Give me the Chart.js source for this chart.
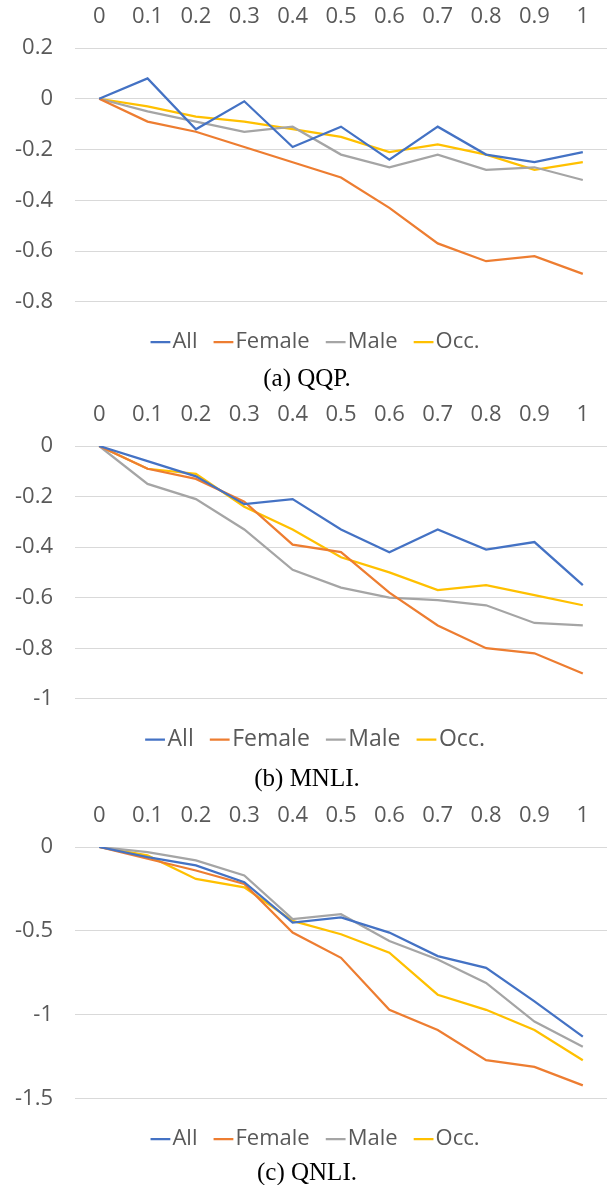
<!DOCTYPE html>
<html lang="en">
<head>
<meta charset="utf-8">
<title>QQP / MNLI / QNLI</title>
<script src="https://cdn.jsdelivr.net/npm/chart.js@4.4.1/dist/chart.umd.min.js"></script>
<style>
  body { margin: 0; background: #fff; width: 614px; height: 1185px; position: relative; overflow: hidden; }
  .panel { position: absolute; left: 0; width: 614px; height: 368px; }
  .caption { position: absolute; left: 0; width: 614px; text-align: center;
             font-family: "Liberation Serif", "Times New Roman", serif; font-size: 25px; color: #000;
             line-height: 28px; }
</style>
</head>
<body>

<div class="panel" style="top:0px"><canvas id="qqp"></canvas></div>
<div class="caption" style="top:364px">(a) QQP.</div>

<div class="panel" style="top:397px"><canvas id="mnli"></canvas></div>
<div class="caption" style="top:764px">(b) MNLI.</div>

<div class="panel" style="top:798px"><canvas id="qnli"></canvas></div>
<div class="caption" style="top:1158px">(c) QNLI.</div>

<script>
var xLabels = ['0', '0.1', '0.2', '0.3', '0.4', '0.5', '0.6', '0.7', '0.8', '0.9', '1'];
var seriesNames = ['All', 'Female', 'Male', 'Occ.'];
var seriesColors = ['#4472C4', '#ED7D31', '#A5A5A5', '#FFC000'];

// (a) QQP
var qqpAll    = [0, 0.08, -0.12, -0.01, -0.19, -0.11, -0.24, -0.11, -0.22, -0.25, -0.21];
var qqpFemale = [0, -0.09, -0.13, -0.19, -0.25, -0.31, -0.43, -0.57, -0.64, -0.62, -0.69];
var qqpMale   = [0, -0.05, -0.09, -0.13, -0.11, -0.22, -0.27, -0.22, -0.28, -0.27, -0.32];
var qqpOcc    = [0, -0.03, -0.07, -0.09, -0.12, -0.15, -0.21, -0.18, -0.22, -0.28, -0.25];

// (b) MNLI
var mnliAll    = [0, -0.06, -0.12, -0.23, -0.21, -0.33, -0.42, -0.33, -0.41, -0.38, -0.55];
var mnliFemale = [0, -0.09, -0.13, -0.22, -0.39, -0.42, -0.58, -0.71, -0.80, -0.82, -0.90];
var mnliMale   = [0, -0.15, -0.21, -0.33, -0.49, -0.56, -0.60, -0.61, -0.63, -0.70, -0.71];
var mnliOcc    = [0, -0.09, -0.11, -0.24, -0.33, -0.44, -0.50, -0.57, -0.55, -0.59, -0.63];

// (c) QNLI
var qnliAll    = [0, -0.06, -0.11, -0.21, -0.45, -0.42, -0.51, -0.65, -0.72, -0.92, -1.13];
var qnliFemale = [0, -0.07, -0.14, -0.22, -0.51, -0.66, -0.97, -1.09, -1.27, -1.31, -1.42];
var qnliMale   = [0, -0.03, -0.08, -0.17, -0.43, -0.40, -0.56, -0.67, -0.81, -1.04, -1.19];
var qnliOcc    = [0, -0.05, -0.19, -0.24, -0.44, -0.52, -0.63, -0.88, -0.97, -1.09, -1.27];

var fontFamily = '"Open Sans", "Noto Sans", sans-serif';

// legend is centred under the plot area, not the whole canvas
var shiftLegend = {
  id: 'shiftLegend',
  afterLayout: function (chart) {
    if (chart.legend) chart.legend.left += 32;
  }
};

// top: height of the x axis band, bottom: padding under the legend
function makeChart(id, series, yMin, yMax, yStep, top, bottom, legendSize) {
  var datasets = [];
  for (var i = 0; i < series.length; i++) {
    datasets.push({
      label: seriesNames[i],
      data: series[i],
      borderColor: seriesColors[i],
      backgroundColor: seriesColors[i],
      borderWidth: 2.25,
      pointRadius: 0,
      tension: 0,
      fill: false
    });
  }
  var tickFont = { family: fontFamily, size: 22 };
  return new Chart(document.getElementById(id), {
    type: 'line',
    data: { labels: xLabels, datasets: datasets },
    plugins: [shiftLegend],
    options: {
      responsive: true,
      maintainAspectRatio: false,
      animation: false,
      layout: { padding: { left: 0, right: 7, top: 0, bottom: bottom } },
      plugins: {
        tooltip: { enabled: false },
        legend: {
          position: 'bottom',
          title: { display: true, text: '', font: { size: 1 }, padding: { top: 3, bottom: 0 } },
          labels: {
            font: { family: fontFamily, size: legendSize },
            color: '#595959',
            usePointStyle: true,
            pointStyle: 'line',
            boxWidth: 2,
            boxHeight: 14,
            padding: 25
          }
        }
      },
      scales: {
        x: {
          position: 'top',
          offset: true,
          grid: { display: false },
          border: { display: false },
          ticks: { font: tickFont, color: '#595959', autoSkip: false, maxRotation: 0, padding: 10 },
          afterFit: function (s) { s.height = top; }
        },
        y: {
          min: yMin,
          max: yMax,
          grid: { color: '#D9D9D9', lineWidth: 1, drawTicks: false },
          border: { display: false },
          ticks: {
            stepSize: yStep,
            font: tickFont,
            color: '#595959',
            padding: 22,
            callback: function (v) { return String(Number(v.toFixed(2))); }
          },
          afterFit: function (s) { s.width = 75; }
        }
      }
    }
  });
}

makeChart('qqp', [qqpAll, qqpFemale, qqpMale, qqpOcc], -0.8, 0.2, 0.2, 48, 5, 22);
makeChart('mnli', [mnliAll, mnliFemale, mnliMale, mnliOcc], -1, 0, 0.2, 49, 4, 23);
makeChart('qnli', [qnliAll, qnliFemale, qnliMale, qnliOcc], -1.5, 0, 0.5, 49, 6, 22);
</script>
</body>
</html>
